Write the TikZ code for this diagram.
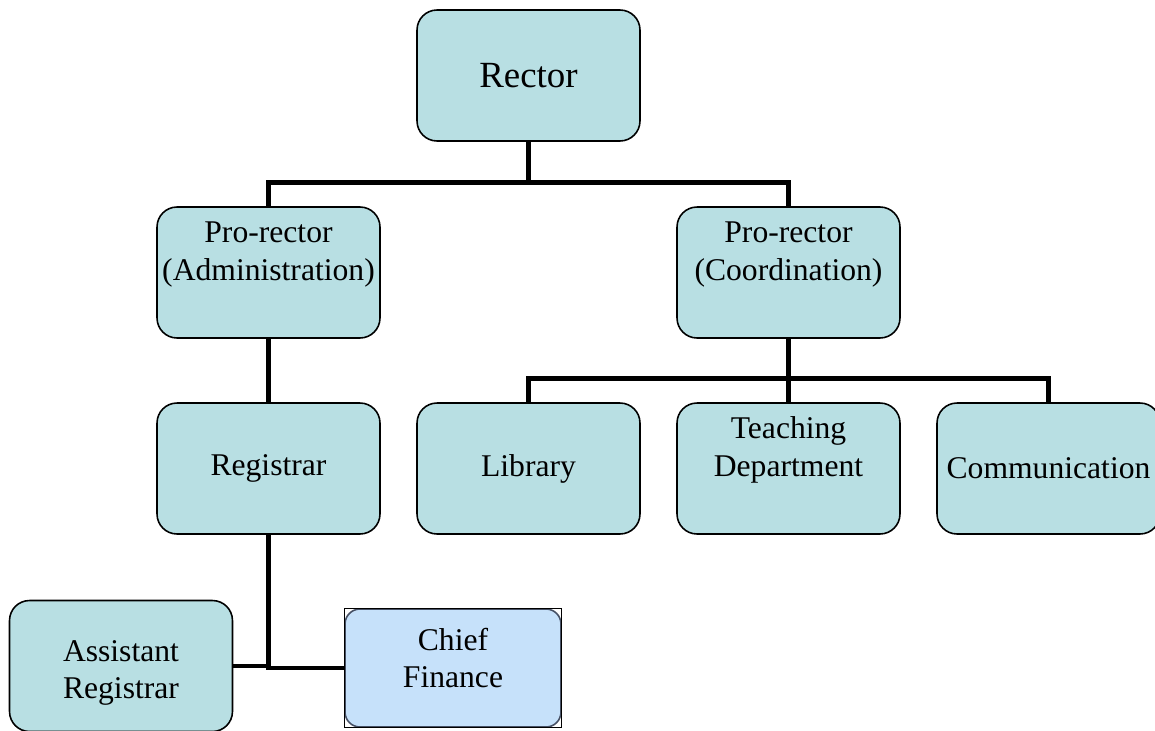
\documentclass[tikz,border=0pt]{standalone}
\usepackage{fontspec}
\setmainfont{Liberation Serif}
\usepackage{xcolor}
\usepackage{tikz}
\usetikzlibrary{
    positioning,
    calc
}
\definecolor{boxfill}{RGB}{184,223,227}
\definecolor{chieffill}{RGB}{198,225,250}
\definecolor{chiefline}{RGB}{70,80,100}
\tikzset{
  basic/.style = {
      draw,
      rectangle,
      fill=boxfill,
      line width=0.9pt,
      rounded corners=0.4cm,
      minimum width=4.46cm,
      minimum height=2.62cm,
      inner sep=0pt,
      align=center,
      font=\fontsize{18}{21.5}\selectfont
  },
  top/.style = {
      basic,
      font=\fontsize{21}{24}\selectfont
  },
  chief/.style = {
      basic,
      fill=chieffill,
      draw=chiefline,
      rounded corners=0.3cm,
      minimum width=4.32cm,
      minimum height=2.36cm
  },
  boxtext/.style = {
      align=center,
      inner sep=0pt,
      font=\fontsize{18}{21.5}\selectfont
  },
  conn/.style = {
      line width=2.8pt
  }
}
\begin{document}
\begin{tikzpicture}[x=0.02cm, y=-0.02cm]
    \useasboundingbox (0,0) rectangle (1155,730);
    % Nodes
    \node[top] (rector) at (528.5,75.5) {Rector};
    \node[basic, label={[boxtext, yshift=0.36cm]center:Pro-rector\\(Administration)}] (proadm) at (268.5,272.5) {};
    \node[basic, label={[boxtext, yshift=0.36cm]center:Pro-rector\\(Coordination)}] (procoord) at (788.5,272.5) {};
    \node[basic] (registrar) at (268.5,468.5) {Registrar};
    \node[basic] (library) at (528.5,468.5) {Library};
    \node[basic, label={[boxtext, yshift=0.38cm]center:Teaching\\Department}] (teaching) at (788.5,468.5) {};
    \node[basic] (comm) at (1048.5,468.5) {Communication};
    \node[basic, label={[boxtext, yshift=-0.14cm]center:Assistant\\Registrar}] (assistant) at (121,666) {};
    \node[chief, label={[boxtext, yshift=0.2cm]center:Chief\\Finance}] (finance) at (453,668) {};
    \draw[line width=0.6pt] (finance.south west) rectangle (finance.north east);
    % Edges
    \draw[conn] (rector.south) -- ++(0,41) coordinate (bus1);
    \draw[conn] (proadm.north) |- (bus1) -| (procoord.north);
    \draw[conn] (proadm) -- (registrar);
    \draw[conn] (procoord.south) -- ++(0,40) coordinate (bus2);
    \draw[conn] (library.north) |- (bus2) -| (comm.north);
    \draw[conn] (bus2) -- (teaching.north);
    \draw[conn] (registrar.south) |- (finance.west);
    \draw[conn] (assistant.east) -- (assistant.east -| registrar.south);
\end{tikzpicture}
\end{document}
